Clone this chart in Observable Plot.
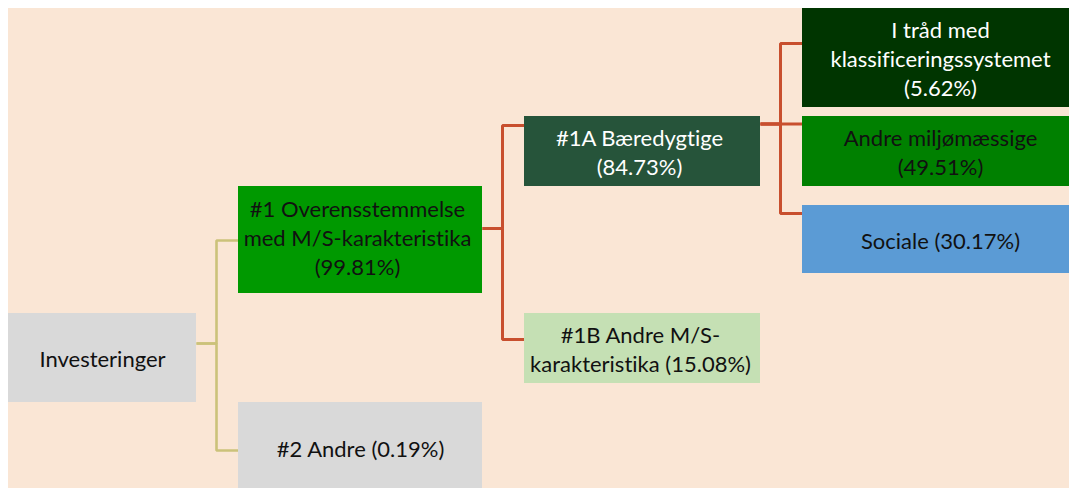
<!DOCTYPE html>
<html>
<head>
<meta charset="utf-8">
<script src="https://cdn.jsdelivr.net/npm/d3@7"></script>
<script src="https://cdn.jsdelivr.net/npm/@observablehq/plot@0.6"></script>
<style>
  html, body { margin: 0; padding: 0; background: #ffffff; }
  #chart svg { display: block; }
  #chart text { font-variant-ligatures: none; font-feature-settings: "liga" 0, "dlig" 0; }
</style>
</head>
<body>
<div id="chart"></div>
<script>
// ---- DATA ----
const nodeNames = [
  "Investeringer",
  "#1 Overensstemmelse\nmed M/S-karakteristika",
  "#2 Andre",
  "#1A Bæredygtige",
  "#1B Andre M/S-\nkarakteristika",
  "I tråd med\nklassificeringssystemet",
  "Andre miljømæssige",
  "Sociale"
];
const nodeShares = [null, 99.81, 0.19, 84.73, 15.08, 5.62, 49.51, 30.17];
const nodeParents = [null, 0, 0, 1, 1, 3, 3, 3];

// ---- LAYOUT (pixel layout of the hierarchy diagram) ----
const layout = [
  {x1: 8,   x2: 196,  y1: 313, y2: 402, outY: 343, sep: " "},
  {x1: 238, x2: 482,  y1: 186, y2: 293, inY: 240, outY: 228, sep: "\n", dy: -3, dx: -3},
  {x1: 238, x2: 482,  y1: 402, y2: 492, inY: 450, sep: " "},
  {x1: 524, x2: 760,  y1: 116, y2: 186, inY: 125, outY: 123.5, sep: "\n", dx: -3},
  {x1: 524, x2: 760,  y1: 313, y2: 383, inY: 339, sep: " ", dx: -2},
  {x1: 802, x2: 1078, y1: 8,   y2: 107, inY: 43, sep: "\n"},
  {x1: 802, x2: 1078, y1: 116, y2: 186, inY: 123.5, sep: "\n"},
  {x1: 802, x2: 1078, y1: 205, y2: 273, inY: 213, sep: " "}
];
const elbowGap = 20;

// ---- STYLES ----
const boxFills = ["#D9D9D9", "#009900", "#D9D9D9", "#26543A", "#C5E0B4", "#003500", "#008000", "#5B9BD5"];
const textFills = ["#111", "#111", "#111", "#ffffff", "#111", "#ffffff", "#111", "#111"];
const linkColors = {0: "#CBC27A", 1: "#C84F2E", 3: "#C84F2E"};
const bgColor = "#FAE6D5";
const fontSize = 22;

// ---- BUILD ----
const W = 1069, H = 488;
const nodes = nodeNames.map((name, i) => {
  const L = layout[i];
  const label = nodeShares[i] == null ? name : `${name}${L.sep}(${nodeShares[i].toFixed(2)}%)`;
  return {
    i, label,
    x1: L.x1, x2: L.x2, y1: L.y1, y2: L.y2,
    cx: (L.x1 + L.x2) / 2 + (L.dx || 0),
    cy: (L.y1 + L.y2) / 2 + (L.dy || 0),
    fill: boxFills[i], color: textFills[i]
  };
});

const linkPts = [];
nodeParents.forEach((p, i) => {
  if (p == null) return;
  const P = layout[p], C = layout[i];
  const mx = P.x2 + elbowGap;
  const id = `${p}-${i}`;
  [[P.x2, P.outY], [mx, P.outY], [mx, C.inY], [C.x1, C.inY]].forEach(([x, y]) =>
    linkPts.push({id, parent: p, x, y}));
});

const chart = Plot.plot({
  width: W,
  height: H,
  margin: 0,
  x: {domain: [0, W], range: [0, W], axis: null},
  y: {domain: [0, H], range: [0, H], axis: null},
  style: {background: "#ffffff", fontFamily: "Lato, 'Open Sans', sans-serif"},
  marks: [
    Plot.rect([{x1: 8, x2: W, y1: 8, y2: H}], {x1: "x1", x2: "x2", y1: "y1", y2: "y2", fill: bgColor}),
    Plot.line(linkPts, {
      x: "x", y: "y", z: "id",
      stroke: d => linkColors[d.parent],
      strokeWidth: d => d.parent === 0 ? 2.6 : 3,
      strokeLinejoin: "miter", strokeLinecap: "butt"
    }),
    Plot.rect(nodes, {x1: "x1", x2: "x2", y1: "y1", y2: "y2", fill: "fill"}),
    Plot.text(nodes, {
      x: "cx", y: "cy", text: "label",
      fill: "color", fontSize, lineHeight: 29 / fontSize,
      textAnchor: "middle", lineAnchor: "middle"
    })
  ]
});
document.getElementById("chart").appendChild(chart);
</script>
</body>
</html>
